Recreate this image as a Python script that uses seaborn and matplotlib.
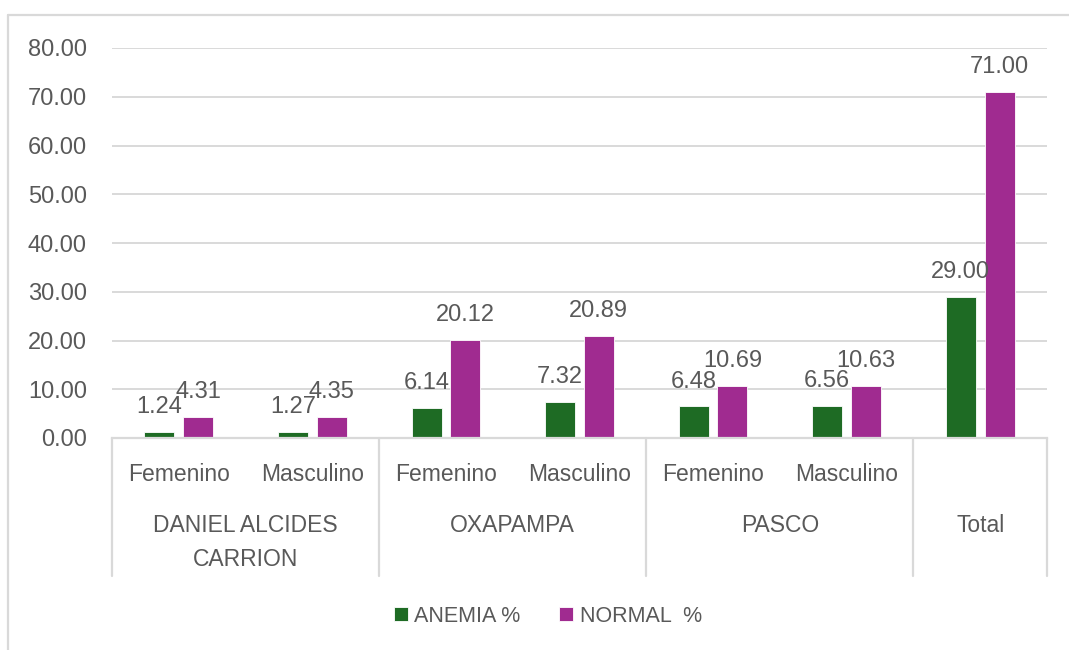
import matplotlib
matplotlib.use("Agg")
import matplotlib.pyplot as plt
from matplotlib.lines import Line2D
import seaborn as sns
import pandas as pd

# ---- data ----
keys = ["DAC-F", "DAC-M", "OXA-F", "OXA-M", "PAS-F", "PAS-M", "TOT"]
sub_labels = ["Femenino", "Masculino", "Femenino", "Masculino", "Femenino", "Masculino", ""]
group_labels = ["DANIEL ALCIDES\nCARRION", "OXAPAMPA", "PASCO", "Total"]
group_spans = [(0, 1), (2, 3), (4, 5), (6, 6)]
anemia = [1.24, 1.27, 6.14, 7.32, 6.48, 6.56, 29.00]
normal = [4.31, 4.35, 20.12, 20.89, 10.69, 10.63, 71.00]
series_names = ["ANEMIA %", "NORMAL  %"]
yticks = [0, 10, 20, 30, 40, 50, 60, 70, 80]

df = pd.DataFrame({
    "key": keys * 2,
    "serie": [series_names[0]] * len(keys) + [series_names[1]] * len(keys),
    "value": anemia + normal,
})

TXT = "#595959"
GRID = "#D9D9D9"
colors = {series_names[0]: "#1E6B24", series_names[1]: "#A02B90"}
FONT = ["Liberation Sans", "DejaVu Sans"]

sns.set_theme(style="white")
plt.rcParams["font.family"] = FONT

W, H = 1069, 650
fig = plt.figure(figsize=(W / 100, H / 100), dpi=100)
left, right, bottom, top = 112, 1047, 438, 48
ax = fig.add_axes([left / W, 1 - bottom / H, (right - left) / W, (bottom - top) / H])

sns.barplot(data=df, x="key", y="value", hue="serie", order=keys,
            hue_order=series_names, palette=colors, width=0.58, gap=0.224,
            ax=ax, legend=True, edgecolor="white", linewidth=0.6, saturation=1)

ax.set_ylim(0, 80)
ax.set_xlim(-0.5, len(keys) - 0.5)
ax.set_yticks(yticks)
ax.set_yticklabels([f"{v:.2f}" for v in yticks])
ax.yaxis.grid(True, color=GRID, linewidth=1.4)
ax.set_axisbelow(True)
for s in ["top", "right", "left"]:
    ax.spines[s].set_visible(False)
ax.spines["bottom"].set_color(GRID)
ax.spines["bottom"].set_linewidth(1.6)
ax.tick_params(axis="y", length=0, pad=18, labelsize=17, labelcolor=TXT)
ax.tick_params(axis="x", length=0, pad=18, labelsize=16.5, labelcolor=TXT)
ax.set_xticks(range(len(keys)))
ax.set_xticklabels(sub_labels)
ax.set_xlabel("")
ax.set_ylabel("")

for cont in ax.containers:
    ax.bar_label(cont, fmt="%.2f", padding=10, fontsize=17, color=TXT)

# group labels and separators
trans = ax.get_xaxis_transform()
sep_bottom = -(576 - bottom) / (bottom - top)
bounds = [-0.5] + [b + 0.5 for (_, b) in group_spans]
for xb in bounds:
    ax.add_line(Line2D([xb, xb], [0, sep_bottom], transform=trans, color=GRID,
                       linewidth=1.6, clip_on=False))
gy = -(514 - bottom) / (bottom - top)
for lab, (a, b) in zip(group_labels, group_spans):
    ax.text((a + b) / 2, gy, lab, transform=trans, ha="center", va="top",
            fontsize=16.5, color=TXT, linespacing=1.6)

# legend
handles, labels = ax.get_legend_handles_labels()
ax.get_legend().remove()
fig.legend(handles, labels, loc="center", bbox_to_anchor=(548 / W, 1 - 616 / H),
           ncol=2, frameon=False, fontsize=15.5, labelcolor=TXT,
           handlelength=0.65, handleheight=0.65, handletextpad=0.3,
           columnspacing=1.8)

# outer chart border (top and left visible)
fig.add_artist(Line2D([8 / W, 8 / W], [0, 1 - 15 / H], transform=fig.transFigure,
                      color=GRID, linewidth=1.6))
fig.add_artist(Line2D([8 / W, 1], [1 - 15 / H, 1 - 15 / H], transform=fig.transFigure,
                      color=GRID, linewidth=1.6))

fig.savefig("out.png", dpi=100, facecolor="white")
